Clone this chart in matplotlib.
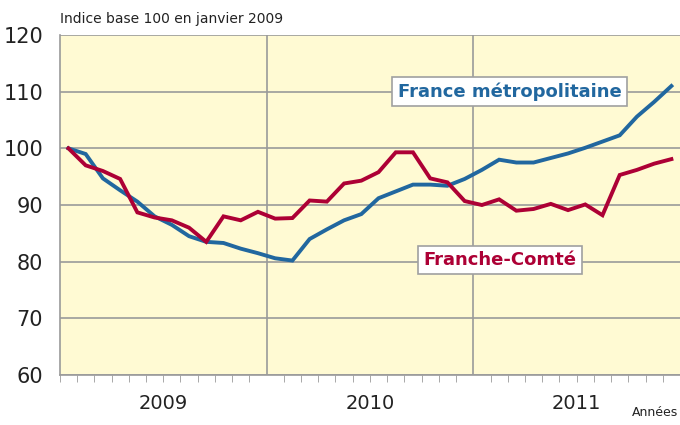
import numpy as np
import matplotlib.pyplot as plt
from matplotlib.ticker import MultipleLocator

# monthly index, base 100 = January 2009 (Jan 2009 .. Dec 2011)
france = [100, 99.0, 94.7, 92.6, 90.6, 88.0, 86.5, 84.5, 83.5, 83.3, 82.3, 81.5,
          80.6, 80.2, 84.0, 85.7, 87.3, 88.4, 91.2, 92.4, 93.6, 93.6, 93.4, 94.6,
          96.2, 98.0, 97.5, 97.5, 98.3, 99.1, 100.1, 101.2, 102.3, 105.6, 108.2, 111.0]
franche_comte = [100, 97.0, 96.0, 94.6, 88.7, 87.8, 87.3, 86.0, 83.5, 88.0, 87.3, 88.8,
                 87.6, 87.7, 90.8, 90.6, 93.8, 94.3, 95.8, 99.3, 99.3, 94.7, 94.0, 90.7,
                 90.0, 91.0, 89.0, 89.3, 90.2, 89.1, 90.1, 88.2, 95.3, 96.2, 97.3, 98.1]
years = ['2009', '2010', '2011']

months = np.arange(len(france)) + 0.5

blue = '#21679f'
red = '#ad0035'

fig = plt.figure(figsize=(6.8, 4.25), dpi=100)
ax = fig.add_axes([0.088, 0.1176, 0.912, 0.8])
ax.set_facecolor('#fffad3')

ax.plot(months, france, color=blue, lw=2.8, zorder=3, solid_joinstyle='miter')
ax.plot(months, franche_comte, color=red, lw=2.8, zorder=4, solid_joinstyle='miter')

ax.set_xlim(0, 36)
ax.set_ylim(60, 120)
ax.yaxis.set_major_locator(MultipleLocator(10))
ax.set_xticks([12, 24])
ax.set_xticklabels([])
ax.xaxis.set_minor_locator(MultipleLocator(1))
ax.grid(True, which='major', color='#9a9a9a', lw=1.2, zorder=1)
ax.tick_params(axis='x', which='both', length=0)
ax.tick_params(axis='x', which='minor', length=5, color='#9a9a9a', direction='out')
ax.tick_params(axis='y', length=0, labelsize=15, pad=12, labelcolor='#222222')

for s in ['top', 'right']:
    ax.spines[s].set_visible(False)
for s in ['left', 'bottom']:
    ax.spines[s].set_color('#9a9a9a')
    ax.spines[s].set_linewidth(1.2)

for k, yr in enumerate(years):
    ax.text(12 * k + 6, -0.055, yr, transform=ax.get_xaxis_transform(),
            ha='center', va='top', fontsize=14, color='#222222')

fig.text(0.088, 0.955, 'Indice base 100 en janvier 2009', fontsize=10,
         ha='left', va='center', color='#222222')
fig.text(0.997, 0.015, 'Années', fontsize=9, ha='right', va='bottom', color='#222222')

box = dict(boxstyle='square,pad=0.3', fc='white', ec='#a0a0a0', lw=1.2)
ax.text(26.1, 110, 'France métropolitaine', color=blue, fontsize=13,
        fontweight='bold', ha='center', va='center', bbox=box, zorder=5)
ax.text(25.55, 80.3, 'Franche-Comté', color=red, fontsize=13,
        fontweight='bold', ha='center', va='center', bbox=box, zorder=5)

fig.savefig('out.png', dpi=100)
